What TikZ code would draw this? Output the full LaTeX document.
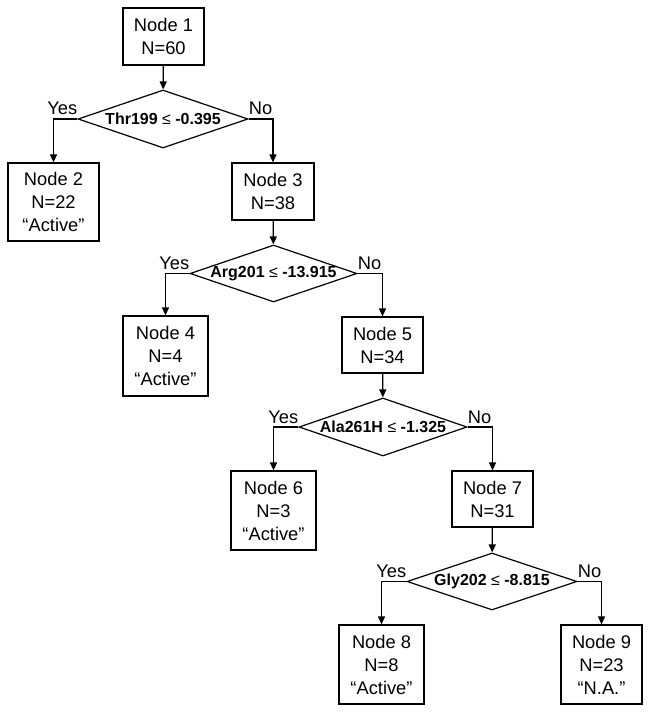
\documentclass[tikz,border=0pt]{standalone}
\usepackage{fontspec}
\setmainfont{Liberation Sans}
\usetikzlibrary{shapes.geometric,arrows.meta}
\begin{document}
\begin{tikzpicture}[x=1pt,y=-1pt,
  box/.style={draw, line width=1.2pt, rectangle, inner sep=0pt, align=center,
    font=\fontsize{18.3}{23}\selectfont},
  dec/.style={draw, line width=1.2pt, diamond, inner sep=0pt,
    font=\fontsize{16}{19}\selectfont\bfseries},
  lbl/.style={inner sep=0pt, font=\fontsize{18.3}{23}\selectfont},
  arr/.style={line width=1.2pt, -{Triangle[length=8pt,width=7pt]}}]
\useasboundingbox (0,0) rectangle (651,714);
% boxes
\node[box, minimum width=81pt, minimum height=57pt] (n1) at (163.5,36.5) {Node 1\\N=60};
\node[box, minimum width=91pt, minimum height=78pt] (n2) at (53.5,202) {Node 2\\N=22\\“Active”};
\node[box, minimum width=82pt, minimum height=57pt] (n3) at (273,191.5) {Node 3\\N=38};
\node[box, minimum width=85pt, minimum height=80pt] (n4) at (165.5,356) {Node 4\\N=4\\“Active”};
\node[box, minimum width=81pt, minimum height=56pt] (n5) at (382.5,345) {Node 5\\N=34};
\node[box, minimum width=85pt, minimum height=79pt] (n6) at (273.5,510.5) {Node 6\\N=3\\“Active”};
\node[box, minimum width=81pt, minimum height=56pt] (n7) at (492.5,499) {Node 7\\N=31};
\node[box, minimum width=85pt, minimum height=79pt] (n8) at (381.5,664.5) {Node 8\\N=8\\“Active”};
\node[box, minimum width=81pt, minimum height=79pt] (n9) at (601.5,664.5) {Node 9\\N=23\\“N.A.”};
% decisions
\node[dec, minimum width=170pt, minimum height=58pt] (d1) at (163,119)
  {\makebox[0pt]{Thr199 {\mdseries ≤} -0.395}};
\node[dec, minimum width=167pt, minimum height=57pt] (d2) at (273.5,273.5)
  {\makebox[0pt]{Arg201 {\mdseries ≤} -13.915}};
\node[dec, minimum width=168pt, minimum height=58pt] (d3) at (383,427)
  {\makebox[0pt]{Ala261H {\mdseries ≤} -1.325}};
\node[dec, minimum width=170pt, minimum height=57pt] (d4) at (492,581.5)
  {\makebox[0pt]{Gly202 {\mdseries ≤} -8.815}};
% yes / no labels
\foreach \d in {1,2,3,4}{
  \node[lbl, anchor=base east] (y\d) at ([yshift=4pt]d\d.west) {Yes};
  \node[lbl, anchor=base west] (no\d) at ([yshift=4pt]d\d.east) {No};
}
% connectors
\draw[arr] (n1) -- (d1);
\draw[arr] (d1.west) -| (n2.north);
\draw[arr] (d1.east) -| (n3.north);
\draw[arr] (n3) -- (d2);
\draw[arr] (d2.west) -| (n4.north);
\draw[arr] (d2.east) -| (n5.north);
\draw[arr] (n5) -- (d3);
\draw[arr] (d3.west) -| (n6.north);
\draw[arr] (d3.east) -| (n7.north);
\draw[arr] (n7) -- (d4);
\draw[arr] (d4.west) -| (n8.north);
\draw[arr] (d4.east) -| (n9.north);
\end{tikzpicture}
\end{document}
